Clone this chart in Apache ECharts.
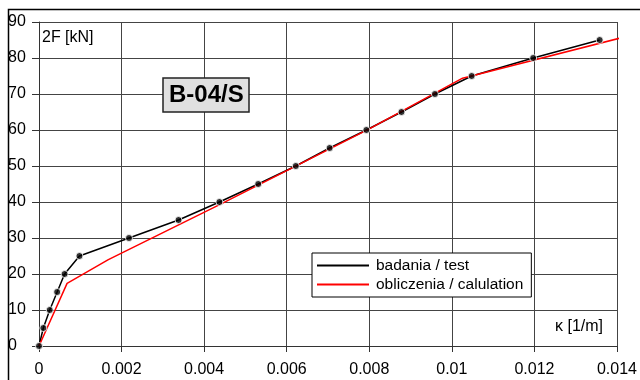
<!DOCTYPE html>
<html>
<head>
<meta charset="utf-8">
<script src="https://cdn.jsdelivr.net/npm/echarts@6/dist/echarts.min.js"></script>
<style>
html,body{margin:0;padding:0;background:#fff;}
#chart{width:640px;height:380px;}
</style>
</head>
<body>
<div id="chart"></div>
<script>
// Test data: curvature kappa [1/m] vs load 2F [kN]
var testKappa = [0, 0.000105, 0.00026, 0.00044, 0.00062, 0.00098, 0.00218, 0.00338, 0.00437, 0.00531, 0.00622, 0.00704, 0.00793, 0.00878, 0.00959, 0.01048, 0.01197, 0.01358];
var testLoad  = [0, 5, 10, 15, 20, 25, 30, 35, 40, 45, 50, 55, 60, 65, 70, 75, 80, 85];
// Calculation curve
var calcKappa = [0, 0.00068, 0.00168, 0.0044, 0.0080, 0.01026, 0.0141];
var calcLoad  = [0, 17.4, 24.0, 39.4, 60.3, 74.4, 85.6];
// Tick labels
var xTickLabels = ['0', '0.002', '0.004', '0.006', '0.008', '0.01', '0.012', '0.014'];
var yTickLabels = ['0', '10', '20', '30', '40', '50', '60', '70', '80', '90'];
var seriesNames = ['badania / test', 'obliczenia / calulation'];

function pairs(xs, ys) { return xs.map(function (x, i) { return [x, ys[i]]; }); }

var FONT = 'Liberation Sans, Arial, sans-serif';
var FS = 16;
var chart = echarts.init(document.getElementById('chart'), null, {renderer: 'canvas'});
chart.setOption({
  animation: false,
  backgroundColor: '#fff',
  textStyle: {fontFamily: FONT},
  title: {
    text: 'B-04/S',
    left: 163, top: 78,
    padding: [4, 6, 4, 6],
    backgroundColor: '#e0e0e0',
    borderColor: '#222',
    borderWidth: 1.5,
    textStyle: {fontFamily: FONT, fontSize: 24, fontWeight: 'bold', color: '#000', lineHeight: 26}
  },
  legend: {
    data: seriesNames,
    orient: 'vertical',
    left: 312, top: 253,
    padding: [4, 8, 4, 5],
    itemGap: 2,
    itemWidth: 52, itemHeight: 2,
    icon: 'rect',
    borderColor: '#000', borderWidth: 1,
    backgroundColor: '#fff',
    textStyle: {fontFamily: FONT, fontSize: 15.5, color: '#000', lineHeight: 17, padding: [0, 0, 0, 2]}
  },
  grid: {left: 39, right: 17, top: 22, bottom: 34, containLabel: false},
  xAxis: {
    type: 'value', min: 0, max: 0.014, interval: 0.002,
    axisLine: {show: true, lineStyle: {color: '#333', width: 1}},
    axisTick: {show: true, length: 6, lineStyle: {color: '#333'}},
    splitLine: {show: true, lineStyle: {color: '#444', width: 1}},
    axisLabel: {
      margin: 16, fontSize: FS, color: '#000', fontFamily: FONT,
      formatter: function (v) { return xTickLabels[Math.round(v / 0.002)]; }
    }
  },
  yAxis: {
    type: 'value', min: 0, max: 90, interval: 10,
    axisLine: {show: true, lineStyle: {color: '#333', width: 1}},
    axisTick: {show: true, length: 7, lineStyle: {color: '#333'}},
    splitLine: {show: true, lineStyle: {color: '#444', width: 1}},
    axisLabel: {
      margin: 31, align: 'left', fontSize: FS, color: '#000', fontFamily: FONT,
      formatter: function (v) { return yTickLabels[Math.round(v / 10)]; }
    }
  },
  graphic: [
    {type: 'rect', left: 6, top: 7, shape: {width: 700, height: 400}, style: {fill: 'none', stroke: '#000', lineWidth: 1.5}, z: -1},
    {type: 'text', left: 42, top: 30, style: {text: '2F [kN]', font: FS + 'px ' + FONT, fill: '#000'}},
    {type: 'text', left: 555, top: 319, style: {text: '\u03ba [1/m]', font: FS + 'px ' + FONT, fill: '#000'}}
  ],
  series: [
    {
      name: seriesNames[0], type: 'line', data: pairs(testKappa, testLoad),
      showSymbol: false, symbol: 'none',
      lineStyle: {color: '#000', width: 1.5}, itemStyle: {color: '#000'}, z: 2
    },
    {
      name: seriesNames[1], type: 'line', data: pairs(calcKappa, calcLoad),
      showSymbol: false, symbol: 'none',
      lineStyle: {color: '#ff0000', width: 1.5}, itemStyle: {color: '#ff0000'}, z: 3
    },
    {
      name: 'markers', type: 'scatter', data: pairs(testKappa, testLoad),
      symbol: 'circle', symbolSize: 7,
      itemStyle: {color: '#000', borderColor: '#fff', borderWidth: 1}, z: 4
    }
  ]
});
</script>
</body>
</html>
